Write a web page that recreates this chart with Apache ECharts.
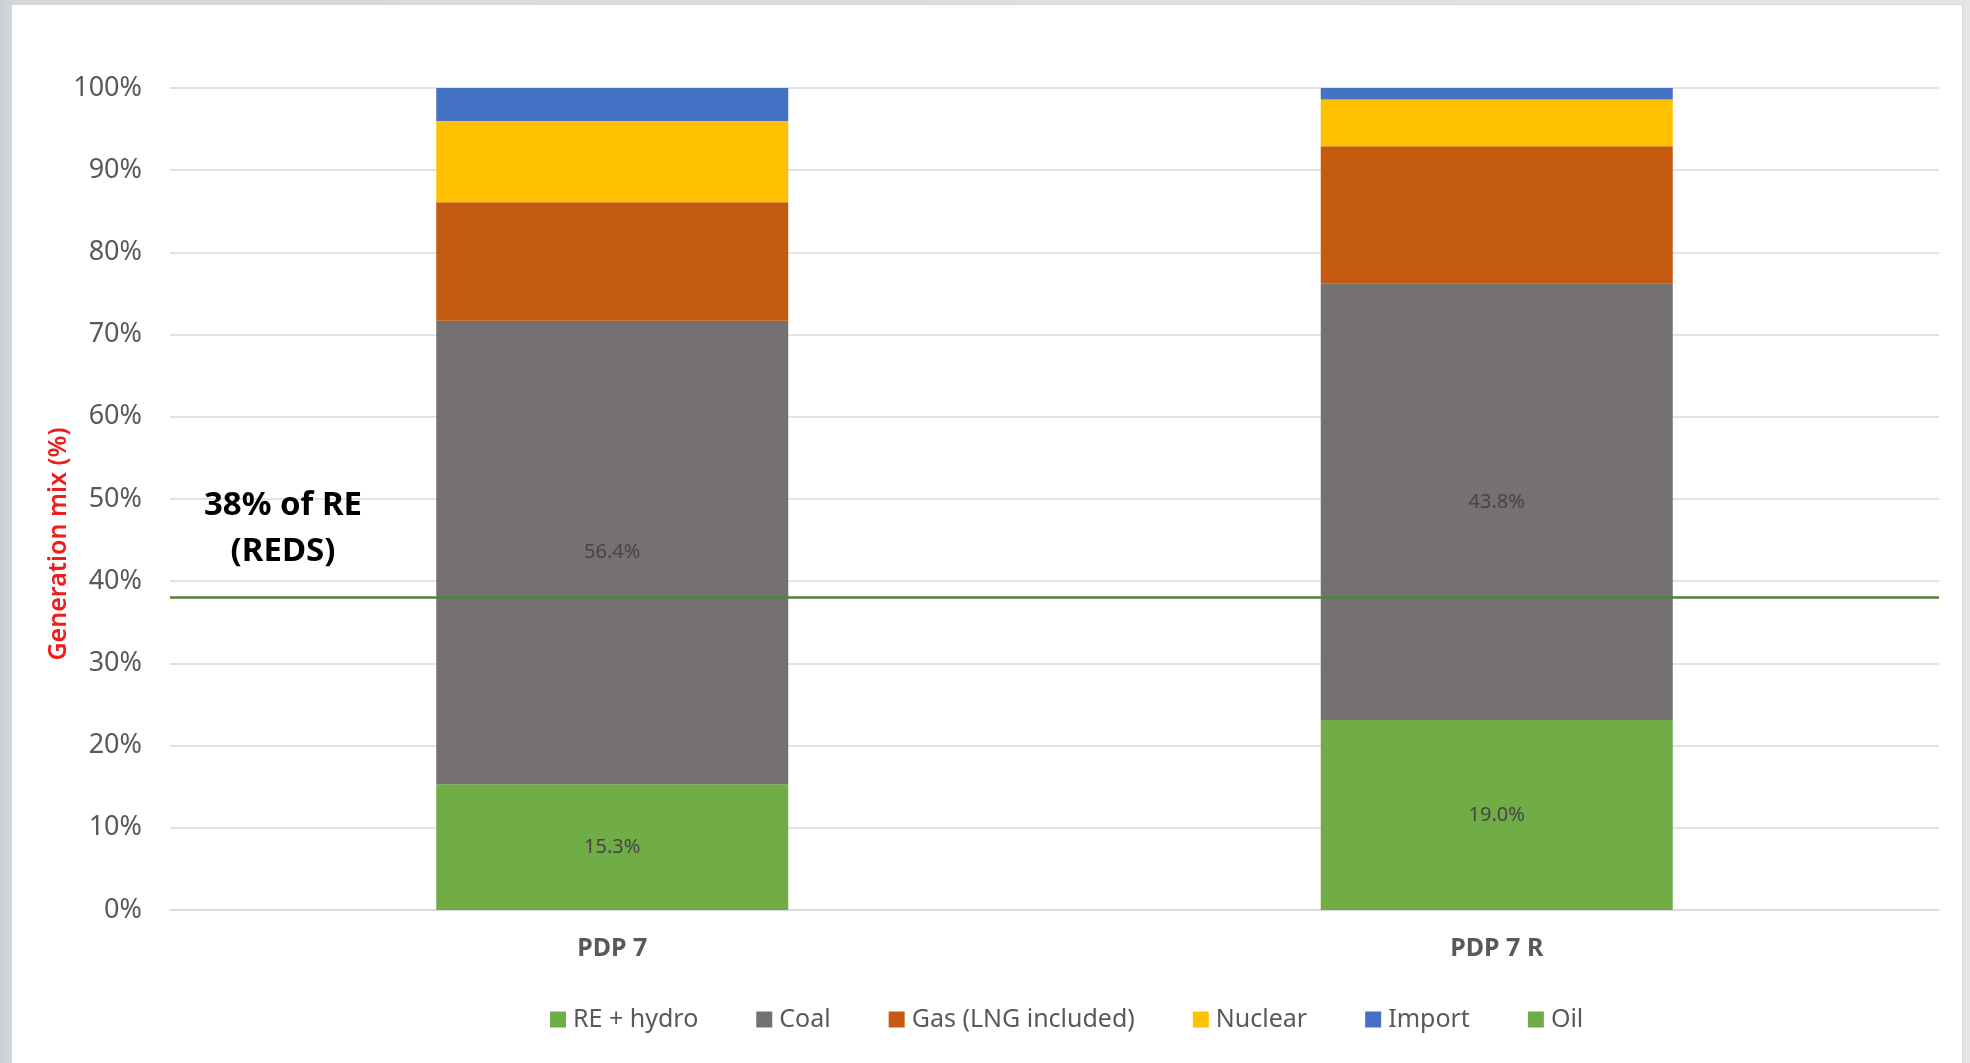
<!DOCTYPE html>
<html>
<head>
<meta charset="utf-8">
<script src="https://cdn.jsdelivr.net/npm/echarts@6/dist/echarts.min.js"></script>
<style>
  html, body { margin: 0; padding: 0; width: 1970px; height: 1063px; overflow: hidden; }
  body { background: linear-gradient(90deg, #c9cdd1 0px, #d4d7da 12px, #e3e5e7 100%); position: relative; }
  #frame { position: absolute; left: 12px; top: 4px; width: 1951px; height: 1059px; background: #ffffff; border-top: 1px solid #d6d8da; border-right: 1px solid #d6d8da; box-sizing: border-box; }
  #chart { position: absolute; left: 0; top: 0; width: 1970px; height: 1063px; }
</style>
</head>
<body>
<div id="frame"></div>
<div id="chart"></div>
<script>
// ---- data ----
const categories = ['PDP 7', 'PDP 7 R'];
const seriesNames = ['RE + hydro', 'Coal', 'Gas (LNG included)', 'Nuclear', 'Import', 'Oil'];
const reHydro = [15.3, 23.1];
const coal = [56.4, 53.1];
const gas = [14.4, 16.7];
const nuclear = [9.9, 5.7];
const importShare = [4.0, 1.4];
const oil = [0, 0];
const reHydroLabels = ['15.3%', '19.0%'];
const coalLabels = ['56.4%', '43.8%'];
const yTicks = [0, 10, 20, 30, 40, 50, 60, 70, 80, 90, 100];
const redsTarget = 38;
const redsText = ['38% of RE', '(REDS)'];
const yAxisTitle = 'Generation mix (%)';

const colors = ['#70AD47', '#767171', '#C55A11', '#FFC000', '#4472C4', '#70AD47'];
const seriesData = [reHydro, coal, gas, nuclear, importShare, oil];
const seriesLabels = [reHydroLabels, coalLabels, null, null, null, null];

const chart = echarts.init(document.getElementById('chart'), null, { renderer: 'canvas' });

const series = seriesNames.map((name, i) => {
  const s = {
    name: name,
    type: 'bar',
    stack: 'mix',
    barWidth: 352,
    itemStyle: { color: colors[i] },
    data: seriesData[i].slice(),
    emphasis: { disabled: true }
  };
  if (seriesLabels[i]) {
    const labs = seriesLabels[i];
    s.label = {
      show: true,
      position: 'inside',
      color: '#454545',
      fontFamily: 'Noto Sans',
      fontSize: 20,
      formatter: p => labs[p.dataIndex]
    };
  }
  if (i === 5) {
    s.markLine = {
      silent: true,
      symbol: 'none',
      label: { show: false },
      lineStyle: { color: '#548235', width: 2.5, type: 'solid' },
      data: [{ yAxis: redsTarget }]
    };
  }
  return s;
});

const option = {
  animation: false,
  backgroundColor: 'transparent',
  grid: { left: 170, right: 31, top: 88, bottom: 153, containLabel: false },
  legend: {
    data: seriesNames,
    left: 545,
    top: 1002,
    itemWidth: 16,
    itemHeight: 16,
    itemGap: 58,
    icon: 'rect',
    textStyle: { color: '#595959', fontFamily: 'Noto Sans', fontSize: 25, padding: [0, 0, 0, 2] },
    selectedMode: false
  },
  xAxis: {
    type: 'category',
    data: categories,
    axisLine: { show: true, lineStyle: { color: '#D9D9D9', width: 1.5 } },
    axisTick: { show: false },
    axisLabel: { color: '#595959', fontFamily: 'Noto Sans', fontWeight: 'bold', fontSize: 25, margin: 26 }
  },
  yAxis: {
    type: 'value',
    min: yTicks[0],
    max: yTicks[yTicks.length - 1],
    interval: 10,
    axisLine: { show: false },
    axisTick: { show: false },
    splitLine: { lineStyle: { color: '#D9D9D9', width: 1.5 } },
    axisLabel: { color: '#595959', fontFamily: 'Noto Sans', fontSize: 27, margin: 28, formatter: v => v + '%' }
  },
  graphic: [
    {
      type: 'text',
      left: 283 - 110,
      top: 483,
      style: {
        text: redsText.join('\n'),
        fill: '#000000',
        font: 'bold 33px "Noto Sans"',
        textAlign: 'center',
        lineHeight: 46,
        width: 220
      },
      z: 10
    },
    {
      type: 'text',
      x: 59,
      y: 544,
      rotation: Math.PI / 2,
      style: {
        text: yAxisTitle,
        fill: '#EE1C1C',
        font: '600 25px "Noto Sans"',
        textAlign: 'center',
        textVerticalAlign: 'middle'
      },
      z: 10
    }
  ],
  series: series
};

chart.setOption(option);
</script>
</body>
</html>
